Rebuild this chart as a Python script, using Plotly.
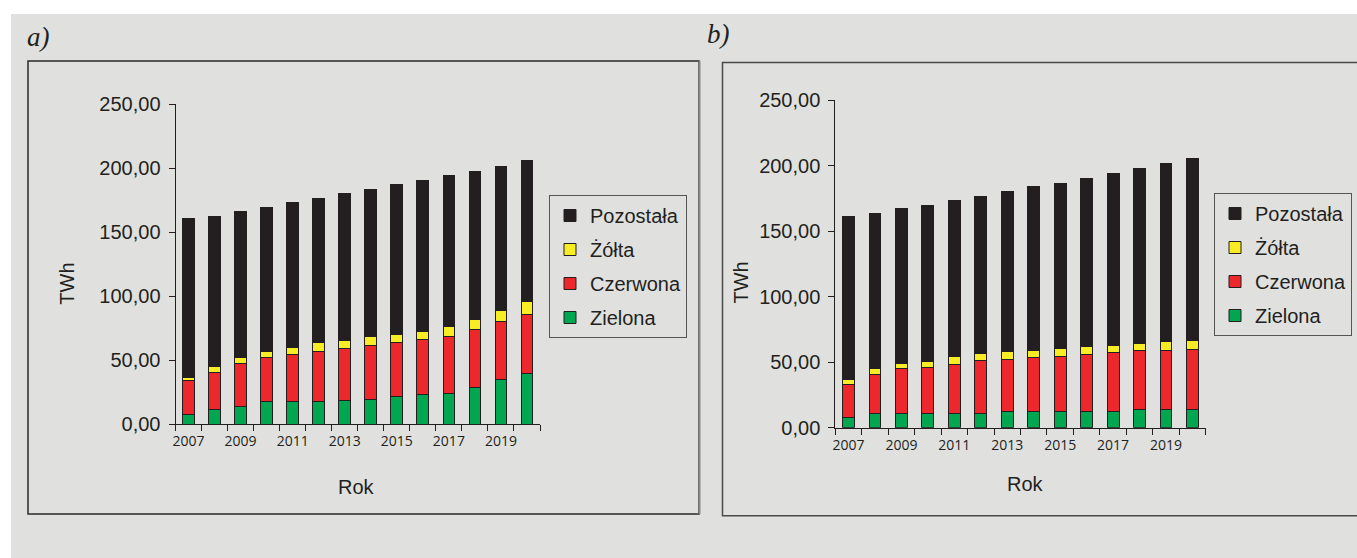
import plotly.graph_objects as go

W, H = 1357, 558

# ---------------- data ----------------
years = [str(y) for y in range(2007, 2021)]
tick_text = [y if (int(y) - 2007) % 2 == 0 else "" for y in years]
y_ticks = [0, 50, 100, 150, 200, 250]

series_names = ["Zielona", "Czerwona", "Żółta", "Pozostała"]
series_colors = ["#00a650", "#ec282d", "#f8ec25", "#231f20"]
legend_ranks = [4, 3, 2, 1]

# panel a)
a_zielona = [7.8, 11.7, 13.8, 17.2, 17.2, 17.2, 18.5, 19.5, 21.6, 22.9, 24.0, 28.9, 34.6, 39.1]
a_czerwona = [26.1, 28.9, 33.6, 34.9, 37.2, 39.6, 40.4, 41.7, 42.2, 43.0, 44.2, 45.1, 45.1, 46.6]
a_zolta = [2.6, 4.2, 4.2, 4.4, 5.5, 6.7, 6.5, 6.8, 6.5, 6.5, 7.6, 7.8, 8.8, 9.9]
a_pozostala = [123.7, 117.7, 114.3, 112.8, 113.0, 112.8, 114.6, 115.3, 116.7, 118.0, 118.0, 115.6, 112.3, 109.9]

# panel b)
b_zielona = [7.7, 11.0, 11.0, 11.0, 11.0, 11.0, 12.3, 12.3, 12.3, 12.3, 12.3, 13.6, 13.6, 13.6]
b_czerwona = [25.3, 29.7, 33.8, 34.8, 37.3, 39.9, 39.9, 41.2, 42.4, 43.7, 45.0, 45.0, 45.0, 46.2]
b_zolta = [3.6, 4.6, 4.0, 4.6, 5.9, 5.6, 5.9, 5.6, 5.7, 5.9, 5.6, 5.6, 6.9, 7.0]
b_pozostala = [124.3, 118.1, 118.5, 119.4, 119.5, 119.7, 121.9, 124.8, 126.0, 128.4, 131.2, 133.5, 136.0, 138.6]

panel_a = [a_zielona, a_czerwona, a_zolta, a_pozostala]
panel_b = [b_zielona, b_czerwona, b_zolta, b_pozostala]

# ---------------- helpers ----------------
def px(x):
    return x / W


def py(y):
    return 1 - y / H


BG = "#e0e1df"
INK = "#231f20"
SANS = "Liberation Sans, Arial, sans-serif"

fig = go.Figure()

for vals_list, xa, ya, lg in [(panel_a, "x", "y", "legend"), (panel_b, "x2", "y2", "legend2")]:
    for name, color, rank, vals in zip(series_names, series_colors, legend_ranks, vals_list):
        fig.add_trace(go.Bar(
            x=years, y=vals, name=name, xaxis=xa, yaxis=ya, legend=lg,
            legendgroup=lg + name, legendrank=rank,
            marker=dict(color=color, line=dict(color=INK, width=1)),
        ))

axis_common_y = dict(
    range=[0, 250], tickvals=y_ticks, tickformat=".2f", showgrid=False, zeroline=False,
    showline=True, linecolor=INK, linewidth=1, ticks="outside", ticklen=6, tickcolor=INK,
    tickfont=dict(family=SANS, size=20, color=INK), ticklabelstandoff=4, automargin=False,
)
axis_common_x = dict(
    type="category", tickvals=years, ticktext=tick_text, tickson="boundaries",
    showgrid=False, zeroline=False, showline=True, linecolor=INK, linewidth=1,
    ticks="outside", ticklen=6, tickcolor=INK, tickangle=0,
    tickfont=dict(family="Open Sans, sans-serif", size=14, color=INK), ticklabelstandoff=4,
    automargin=False,
)

legend_common = dict(
    bgcolor=BG, bordercolor="#555555", borderwidth=1,
    font=dict(family=SANS, size=20, color=INK),
    traceorder="grouped", tracegroupgap=5,
    yanchor="top", itemclick=False,
)

fig.update_layout(
    width=W, height=H, margin=dict(l=0, r=0, t=0, b=0, pad=0, autoexpand=False),
    paper_bgcolor=BG, plot_bgcolor="rgba(0,0,0,0)",
    separators=", ", barmode="stack", bargap=0.55, showlegend=True,
    xaxis=dict(domain=[px(175.5), px(540)], anchor="y", **axis_common_x),
    yaxis=dict(domain=[py(424), py(104)], anchor="x", **axis_common_y),
    xaxis2=dict(domain=[px(835.3), px(1205.7)], anchor="y2", **axis_common_x),
    yaxis2=dict(domain=[py(427.7), py(100)], anchor="x2", **axis_common_y),
    legend=dict(x=px(549), y=py(195), xanchor="left", **legend_common),
    legend2=dict(x=px(1352), y=py(193), xanchor="right", **legend_common),
)

shapes = [
    # white outer strips
    dict(type="rect", xref="paper", yref="paper", x0=0, x1=1, y0=py(14), y1=1,
         fillcolor="white", line=dict(width=0), layer="below"),
    dict(type="rect", xref="paper", yref="paper", x0=0, x1=px(11), y0=0, y1=1,
         fillcolor="white", line=dict(width=0), layer="below"),
    # panel frames
    dict(type="rect", xref="paper", yref="paper", x0=px(28), x1=px(699), y0=py(514), y1=py(61),
         line=dict(color="#2a2a2a", width=1.5), layer="below"),
    dict(type="line", xref="paper", yref="paper", x0=px(699.5), x1=px(699.5), y0=py(514), y1=py(61),
         line=dict(color="#888888", width=2), layer="below"),
    dict(type="rect", xref="paper", yref="paper", x0=px(722.5), x1=px(1370), y0=py(515.7), y1=py(62.5),
         line=dict(color="#4a4a4a", width=1.5), layer="below"),
]
fig.update_layout(shapes=shapes)

annotations = [
    dict(text="a)", x=px(38), y=py(37), font=dict(family="Liberation Serif, serif", size=27, color=INK, style="italic")),
    dict(text="b)", x=px(718), y=py(34), font=dict(family="Liberation Serif, serif", size=27, color=INK, style="italic")),
    dict(text="TWh", x=px(66.7), y=py(284), textangle=-90, font=dict(family=SANS, size=20, color=INK)),
    dict(text="TWh", x=px(740.5), y=py(283), textangle=-90, font=dict(family=SANS, size=20, color=INK)),
    dict(text="Rok", x=px(356), y=py(487), font=dict(family=SANS, size=20, color=INK)),
    dict(text="Rok", x=px(1025), y=py(484), font=dict(family=SANS, size=20, color=INK)),
]
for a in annotations:
    a.update(xref="paper", yref="paper", showarrow=False, xanchor="center", yanchor="middle")
fig.update_layout(annotations=annotations)

fig.write_html(
    "out.html",
    config={"displayModeBar": False},
    post_script="document.body.style.margin='0';document.body.style.overflow='hidden';",
)
